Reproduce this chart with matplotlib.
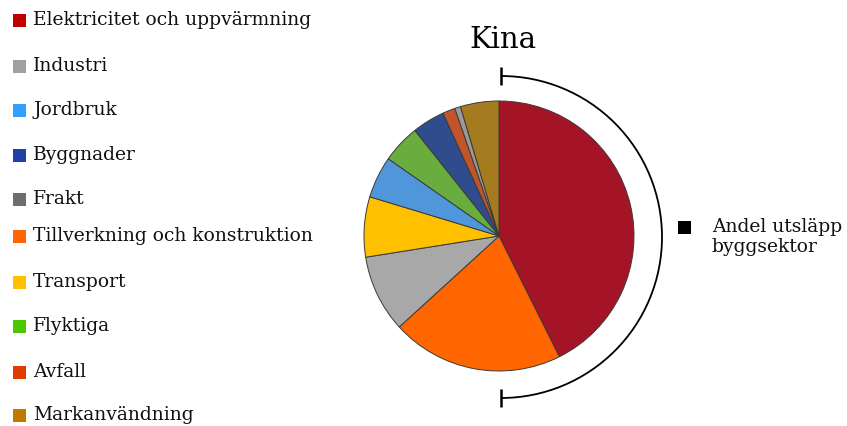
import matplotlib
matplotlib.use("Agg")
import matplotlib.pyplot as plt
from matplotlib.patches import Arc, Rectangle

# Emission shares by sector (percent), in the order the slices are drawn
sectors = ["Elektricitet och uppvärmning", "Tillverkning och konstruktion", "Industri",
           "Transport", "Jordbruk", "Flyktiga", "Byggnader", "Avfall", "Frakt",
           "Markanvändning"]
shares = [42.6, 20.6, 9.25, 7.2, 5.0, 4.6, 3.9, 1.5, 0.7, 4.6]
slice_colors = ["#A51426", "#FF6600", "#A8A8A8", "#FFC000", "#4F97DA", "#6AAD3F",
                "#2F4D8C", "#C2542A", "#9A9A9A", "#A47B1F"]

# Legend listing order and swatch colours
legend_order = ["Elektricitet och uppvärmning", "Industri", "Jordbruk", "Byggnader",
                "Frakt", "Tillverkning och konstruktion", "Transport", "Flyktiga",
                "Avfall", "Markanvändning"]
legend_colors = ["#C00000", "#A0A0A0", "#33A0FF", "#1F40A8", "#6E6E6E", "#FF6600",
                 "#FFC000", "#4CC800", "#E03C00", "#C07800"]
legend_rows = [20, 66, 110, 155, 199, 236, 282, 326, 372, 415]

title = "Kina"
bracket_label = "Andel utsläpp\nbyggsektor"

W, H = 847, 426
fig = plt.figure(figsize=(W / 100, H / 100), dpi=100)
ax = fig.add_axes([0, 0, 1, 1])

serif = "DejaVu Serif"

# Pie
cx, cy, r = 499, H - 236, 135
ax.pie(shares, colors=slice_colors, startangle=90, counterclock=False,
       center=(cx, cy), radius=r, frame=True,
       wedgeprops=dict(edgecolor="#3a3a3a", linewidth=0.7))
ax.set_xlim(0, W)
ax.set_ylim(0, H)
ax.set_aspect("equal")
ax.axis("off")

# Bracket around the right half of the pie
bx, by, br = 501, H - 237, 161
ax.add_patch(Arc((bx, by), 2 * br, 2 * br, theta1=-90, theta2=90,
                 color="black", linewidth=1.3))
for yy in (by + br, by - br):
    ax.plot([bx, bx], [yy - 9, yy + 9], color="black", linewidth=1.8,
            solid_capstyle="butt")

# Title
ax.text(503, H - 40, title, ha="center", va="center", fontsize=21,
        family=serif, color="black")

# Legend entries
for name, col, yy in zip(legend_order, legend_colors, legend_rows):
    ax.add_patch(Rectangle((13, H - yy - 6.5), 13, 13, facecolor=col,
                           edgecolor="none"))
    ax.text(33, H - yy, name, ha="left", va="center", fontsize=13.5,
            family=serif, color="#111111")

# Bracket legend
ax.add_patch(Rectangle((678, H - 234), 13, 13, facecolor="black",
                       edgecolor="none"))
ax.text(712, H - 237, bracket_label, ha="left", va="center", fontsize=13.5,
        family=serif, color="#111111", linespacing=1.15)

fig.savefig("out.png", dpi=100)
